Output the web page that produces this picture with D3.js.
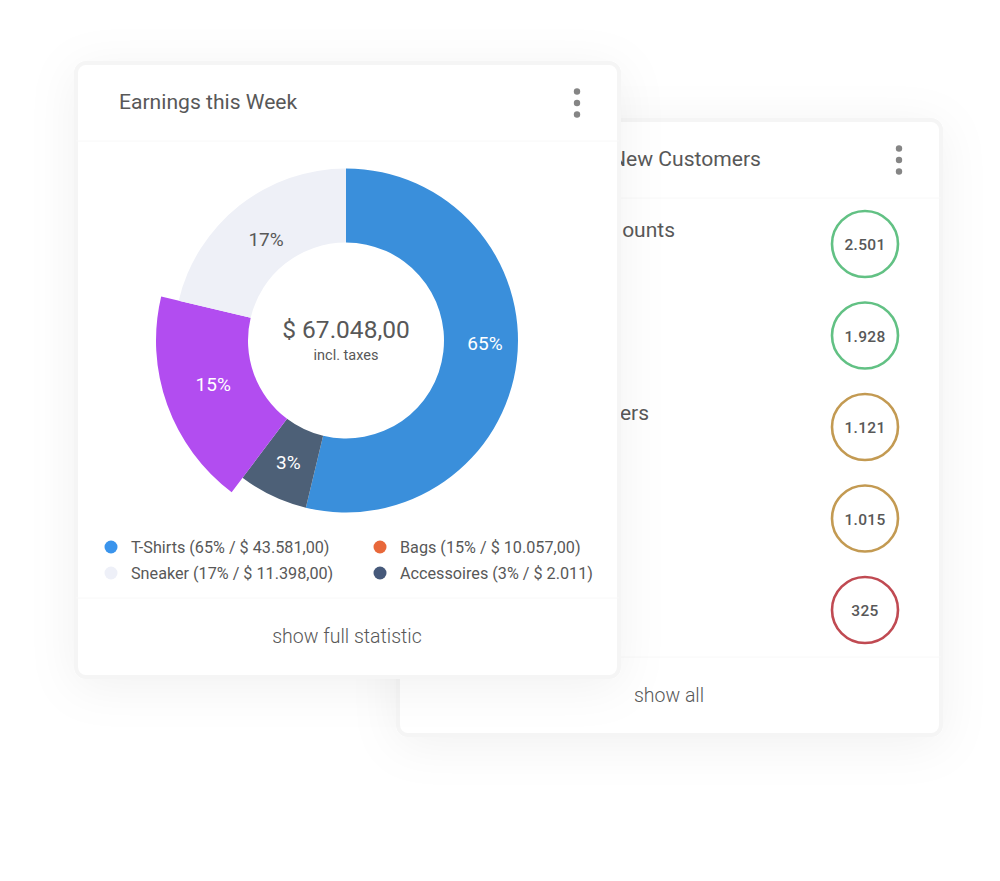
<!DOCTYPE html>
<html>
<head>
<meta charset="utf-8">
<script src="https://cdn.jsdelivr.net/npm/d3@7"></script>
<style>
    html, body { margin: 0; padding: 0; background: #fff; }
    svg { display: block; }
    text { font-family: Roboto, sans-serif; fill: #585858; }
</style>
</head>
<body>
<div id="chart"></div>
<script>
// values
var categories = ['T-Shirts', 'Accessoires', 'Bags', 'Sneaker'];
// the drawn slices do not follow the printed percentages, so these are the drawn sweeps in degrees
var sliceSweeps = [193.5, 23.5, 66.4, 76.6];
var sliceLabels = ['65%', '3%', '15%', '17%'];
var sliceColors = ['#3a8fdb', '#4d6077', '#b24df0', '#eef0f7'];

var legendLabels = ['T-Shirts (65% / $ 43.581,00)', 'Bags (15% / $ 10.057,00)', 'Sneaker (17% / $ 11.398,00)', 'Accessoires (3% / $ 2.011)'];
var legendColors = ['#3a94ec', '#e8683a', '#eef0f8', '#46597a'];

var customerValues = ['2.501', '1.928', '1.121', '1.015', '325'];
var customerColors = ['#62c184', '#62c184', '#c39a52', '#c39a52', '#c04a52'];

var width = 1000, height = 881;

var svg = d3.select('#chart').append('svg')
    .attr('width', width)
    .attr('height', height);

// soft card shadow
var filter = svg.append('defs').append('filter')
    .attr('id', 'cardShadow')
    .attr('x', '-20%').attr('y', '-20%')
    .attr('width', '140%').attr('height', '140%');
filter.append('feDropShadow')
    .attr('dx', 0).attr('dy', 8)
    .attr('stdDeviation', 24)
    .attr('flood-color', '#000')
    .attr('flood-opacity', 0.055);

function drawCard(x, y, w, h, headerY, footerY, title, titleX, footer, footerX) {
    var g = svg.append('g');
    g.append('rect')
        .attr('x', x).attr('y', y)
        .attr('width', w).attr('height', h)
        .attr('rx', 10)
        .attr('fill', '#fff')
        .attr('stroke', '#f5f5f5')
        .attr('stroke-width', 4)
        .attr('filter', 'url(#cardShadow)');
    g.selectAll('line')
        .data([headerY, footerY])
        .enter()
        .append('line')
        .attr('x1', x).attr('x2', x + w)
        .attr('y1', function(d) { return d; })
        .attr('y2', function(d) { return d; })
        .attr('stroke', '#f8f8f8');
    g.append('text')
        .attr('x', titleX).attr('y', y + 46)
        .attr('font-size', 21.1)
        .text(title);
    g.append('text')
        .attr('x', footerX).attr('y', footerY + 45)
        .attr('text-anchor', 'middle')
        .attr('font-size', 19.5)
        .attr('font-weight', 300)
        .text(footer);
    // three dot menu
    g.selectAll('circle.menu')
        .data([-11.5, 0, 11.5])
        .enter()
        .append('circle')
        .attr('class', 'menu')
        .attr('cx', x + w - 42)
        .attr('cy', function(d) { return y + 40 + d; })
        .attr('r', 3.2)
        .attr('fill', '#858585');
    return g;
}

// back card
var back = drawCard(398, 120, 543, 615, 198, 657, 'New Customers', 611, 'show all', 669);

back.selectAll('text.row')
    .data([['ounts', 230], ['ers', 413]])
    .enter()
    .append('text')
    .attr('class', 'row')
    .attr('x', function(d) { return d[0] === 'ounts' ? 675 : 649; })
    .attr('y', function(d) { return d[1] + 7; })
    .attr('text-anchor', 'end')
    .attr('font-size', 21)
    .text(function(d) { return d[0]; });

var yCustomer = d3.scalePoint()
    .domain(customerValues)
    .range([244, 610]);

var badges = back.selectAll('g.badge')
    .data(customerValues)
    .enter()
    .append('g')
    .attr('class', 'badge')
    .attr('transform', function(d) { return 'translate(865,' + yCustomer(d) + ')'; });

badges.append('circle')
    .attr('r', 33)
    .attr('fill', '#fff')
    .attr('stroke', function(d, i) { return customerColors[i]; })
    .attr('stroke-width', 2.6);

badges.append('text')
    .attr('y', 6)
    .attr('text-anchor', 'middle')
    .attr('font-size', 15.5)
    .attr('font-weight', 500)
    .attr('letter-spacing', 0.3)
    .text(function(d) { return d; });

// front card
var front = drawCard(76, 63, 543, 614, 141, 598, 'Earnings this Week', 119, 'show full statistic', 347);

var pie = d3.pie()
    .sort(null)
    .value(function(d) { return d * Math.PI / 180; });

var arcNormal = d3.arc().innerRadius(98).outerRadius(172);
var arcPulled = d3.arc().innerRadius(98).outerRadius(190);
var labelRadius = [139, 135, 139, 129];
var arcLabel = d3.arc()
    .innerRadius(function(d) { return labelRadius[d.index]; })
    .outerRadius(function(d) { return labelRadius[d.index]; });

var donut = front.append('g')
    .attr('transform', 'translate(346,340.5)');

var slices = pie(sliceSweeps);

donut.selectAll('path')
    .data(slices)
    .enter()
    .append('path')
    .attr('d', function(d, i) { return i === 2 ? arcPulled(d) : arcNormal(d); })
    .attr('fill', function(d, i) { return sliceColors[i]; });

donut.selectAll('text.pct')
    .data(slices)
    .enter()
    .append('text')
    .attr('class', 'pct')
    .attr('transform', function(d, i) {
        var c = arcLabel.centroid(d);
        // the 65% label sits at mid height of the ring, not at its slice middle
        if (i === 0) c = [139, 3];
        // 15% sits a little above its slice middle
        if (i === 2) c = [c[0] - 2, c[1] - 3];
        return 'translate(' + c[0] + ',' + c[1] + ')';
    })
    .attr('dy', '0.35em')
    .attr('text-anchor', 'middle')
    .attr('font-size', 19)
    .style('fill', function(d, i) { return i === 3 ? '#585858' : '#fff'; })
    .text(function(d, i) { return sliceLabels[i]; });

donut.append('text')
    .attr('y', -3)
    .attr('text-anchor', 'middle')
    .attr('font-size', 24.5)
    .text('$ 67.048,00');

donut.append('text')
    .attr('y', 19)
    .attr('text-anchor', 'middle')
    .attr('font-size', 14.5)
    .text('incl. taxes');

// legend, two rows by two columns
var xLegend = d3.scalePoint().domain([0, 1]).range([111, 380]);
var yLegend = d3.scalePoint().domain([0, 1]).range([547, 573]);

var legend = front.selectAll('g.legend')
    .data(legendLabels)
    .enter()
    .append('g')
    .attr('class', 'legend')
    .attr('transform', function(d, i) {
        return 'translate(' + xLegend(i % 2) + ',' + yLegend(Math.floor(i / 2)) + ')';
    });

legend.append('circle')
    .attr('r', 6.5)
    .attr('fill', function(d, i) { return legendColors[i]; });

legend.append('text')
    .attr('x', 20)
    .attr('y', 5.5)
    .attr('font-size', 16.2)
    .text(function(d) { return d; });
</script>
</body>
</html>
